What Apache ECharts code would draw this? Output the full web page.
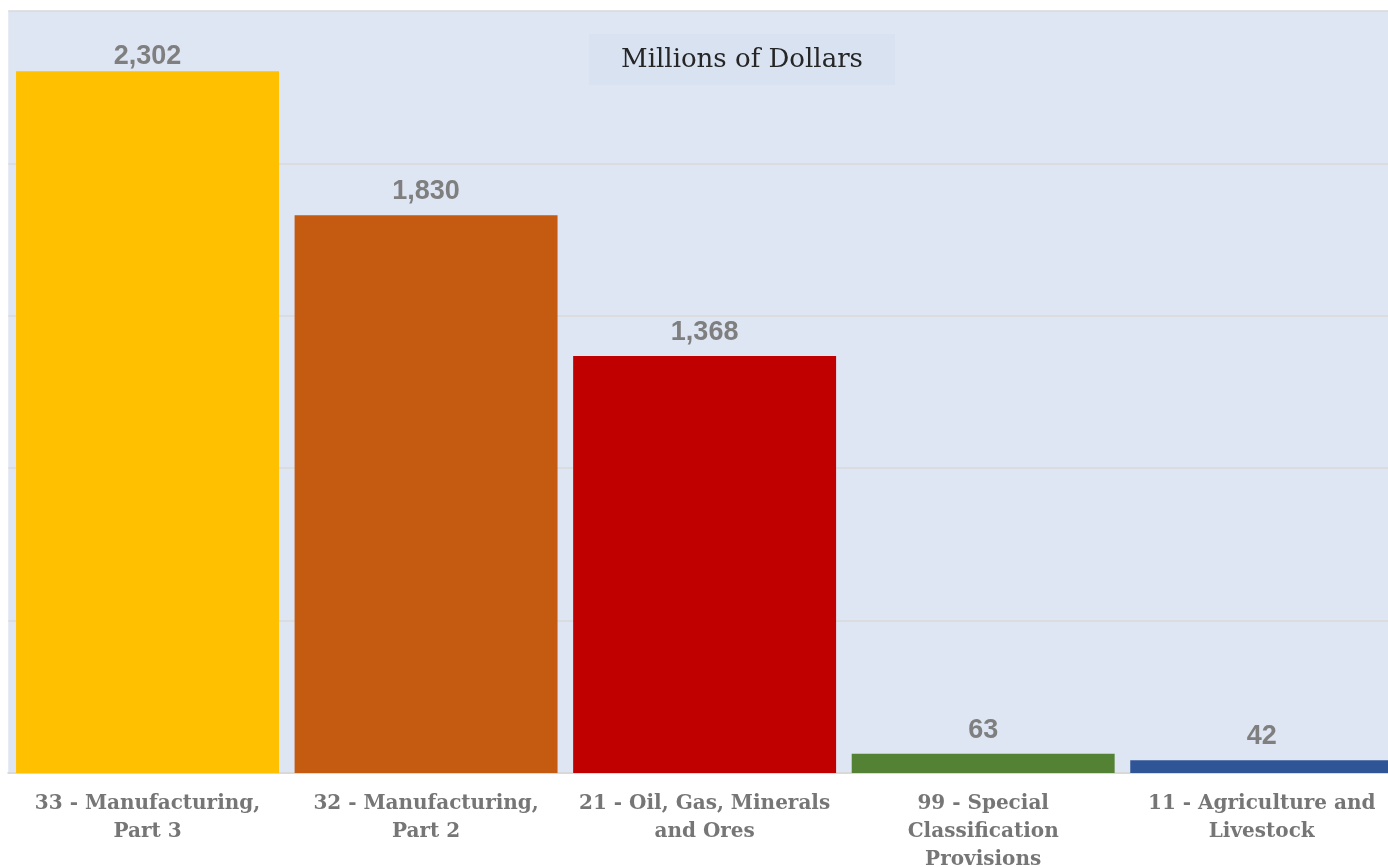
<!DOCTYPE html>
<html>
<head>
<meta charset="utf-8">
<script src="https://cdn.jsdelivr.net/npm/echarts@6/dist/echarts.min.js"></script>
<style>
html,body{margin:0;padding:0;background:#ffffff;overflow:hidden;}
#chart{width:1401px;height:867px;}
</style>
</head>
<body>
<div id="chart"></div>
<script>
const categories = [
  "33 - Manufacturing,\nPart 3",
  "32 - Manufacturing,\nPart 2",
  "21 - Oil, Gas, Minerals\nand Ores",
  "99 - Special\nClassification\nProvisions",
  "11 - Agriculture and\nLivestock"
];
const values = [2302, 1830, 1368, 63, 42];
const barColors = ["#FFC000", "#C55A11", "#C00000", "#548235", "#2F5597"];
const yMin = 0, yMax = 2500, yInterval = 500;
const chartTitle = "Millions of Dollars";

const chart = echarts.init(document.getElementById('chart'), null, {renderer: 'canvas'});
const seriesData = values.map((v, i) => {
  const item = { value: v, itemStyle: { color: barColors[i] } };
  if (i === 0) item.label = { distance: 1 };
  return item;
});
chart.setOption({
  backgroundColor: '#ffffff',
  animation: false,
  grid: {
    left: 8.25, right: 0, top: 11, bottom: 94,
    outerBoundsMode: 'none',
    containLabel: false,
    show: true, backgroundColor: '#dee5f3', borderWidth: 0
  },
  graphic: [
    {
      type: 'rect', left: 589, top: 34, z: 10,
      shape: { width: 306, height: 51 },
      style: { fill: '#d9e2f1' }
    },
    {
      type: 'text', z: 11,
      x: 742, y: 60,
      style: {
        text: chartTitle, fill: '#262626',
        font: '26px "DejaVu Serif"',
        textAlign: 'center', textVerticalAlign: 'middle'
      }
    }
  ],
  xAxis: {
    type: 'category',
    data: categories,
    axisLine: { show: true, lineStyle: { color: '#d9d9d9', width: 2 } },
    axisTick: { show: false },
    axisLabel: {
      interval: 0,
      margin: 17,
      color: '#767676',
      fontFamily: 'DejaVu Serif',
      fontWeight: 'bold',
      fontSize: 20,
      lineHeight: 28
    }
  },
  yAxis: {
    type: 'value',
    min: yMin, max: yMax, interval: yInterval,
    axisLine: { show: false },
    axisTick: { show: false },
    axisLabel: { show: false },
    splitLine: { show: true, lineStyle: { color: '#d9d9d9', width: 1.5 } }
  },
  series: [{
    type: 'bar',
    data: seriesData,
    barCategoryGap: '5.6%',
    label: {
      show: true,
      position: 'top',
      distance: 10,
      color: '#7f7f7f',
      fontFamily: 'Liberation Sans',
      fontWeight: 'bold',
      fontSize: 27,
      formatter: p => p.value.toLocaleString('en-US')
    }
  }]
});
</script>
</body>
</html>
